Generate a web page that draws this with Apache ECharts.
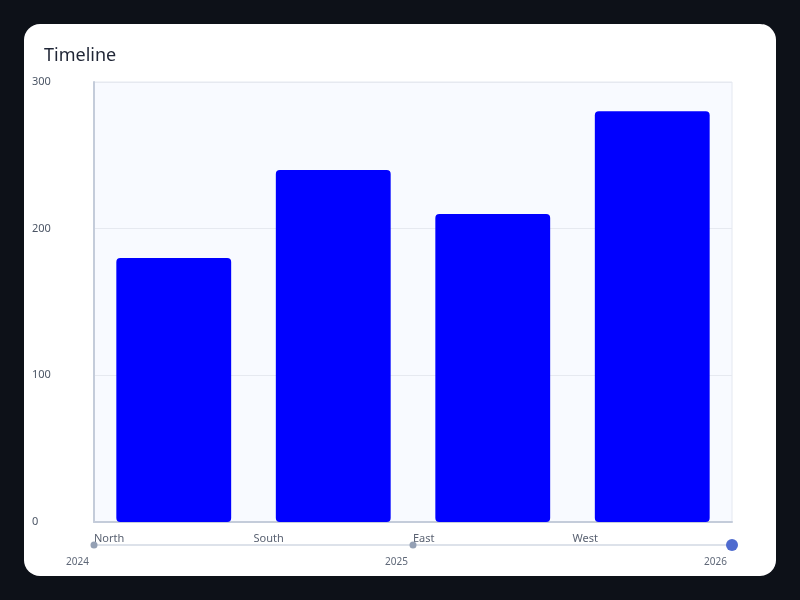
<!DOCTYPE html>
<html>
<head>
<meta charset="utf-8">
<script src="https://cdn.jsdelivr.net/npm/echarts@6/dist/echarts.min.js"></script>
<style>
    html, body {margin: 0; padding: 0; background: #0d1118; width: 800px; height: 600px; overflow: hidden;}
    #card {position: absolute; left: 24px; top: 24px; width: 752px; height: 552px; background: #fff; border-radius: 16px; overflow: hidden;}
    #chart {width: 752px; height: 552px;}
</style>
</head>
<body>
<div id="card"><div id="chart"></div></div>
<script>
var categories = ['North', 'South', 'East', 'West'];
var values = [180, 240, 210, 280];
var years = ['2024', '2025', '2026'];
var yTicks = [0, 100, 200, 300];

var chart = echarts.init(document.getElementById('chart'), null, {renderer: 'canvas'});

var yearLabel = {position: 12, align: 'right', padding: [0, 5, 0, 0], color: '#5f6878', fontSize: 10};

var option = {
    animation: false,
    textStyle: {fontFamily: 'Noto Sans'},
    title: {
        text: 'Timeline', left: 15, top: 18,
        textStyle: {fontSize: 18, fontWeight: 'normal', color: '#1f2535', fontFamily: 'Noto Sans'}
    },
    timeline: {
        axisType: 'category',
        data: years,
        currentIndex: years.length - 1,
        autoPlay: false,
        left: 70, right: 44, top: 515, height: 40,
        padding: 0,
        symbol: 'circle', symbolSize: 7,
        controlStyle: {show: false},
        lineStyle: {color: '#dde2ea', width: 2},
        itemStyle: {color: '#94a0b4'},
        checkpointStyle: {color: '#4f6bcf', symbolSize: 12, borderWidth: 0, animation: false},
        label: yearLabel,
        progress: {
            lineStyle: {color: '#dde2ea', width: 2},
            itemStyle: {color: '#94a0b4'},
            label: yearLabel
        },
        emphasis: {label: yearLabel, itemStyle: {color: '#94a0b4'}}
    },
    grid: {
        left: 70, right: 44, top: 58, bottom: 54,
        show: true, backgroundColor: '#f8faff', borderColor: '#e4e8f0', borderWidth: 1
    },
    xAxis: [{
        type: 'category', data: categories,
        axisLine: {lineStyle: {color: '#c4ccda', width: 2}},
        axisTick: {show: false},
        axisLabel: {show: false}
    }, {
        type: 'value', position: 'bottom', min: 0, max: categories.length, interval: 1,
        axisLine: {show: false}, axisTick: {show: false}, splitLine: {show: false},
        axisLabel: {
            align: 'left', margin: 11, color: '#5a6272', fontSize: 11,
            formatter: function (v) { return categories[v] || ''; }
        }
    }],
    yAxis: {
        type: 'value', min: yTicks[0], max: yTicks[yTicks.length - 1], interval: 100,
        axisLine: {show: true, lineStyle: {color: '#c4ccda', width: 2}},
        axisTick: {show: false},
        splitLine: {lineStyle: {color: '#e6e9f0'}},
        axisLabel: {align: 'left', margin: 62, padding: [3, 0, 0, 0], color: '#4b5565', fontSize: 11}
    },
    series: [{
        type: 'bar', data: values, xAxisIndex: 0,
        barWidth: '72%',
        itemStyle: {color: '#0000ff', borderRadius: 4}
    }]
};

chart.setOption(option);
</script>
</body>
</html>
